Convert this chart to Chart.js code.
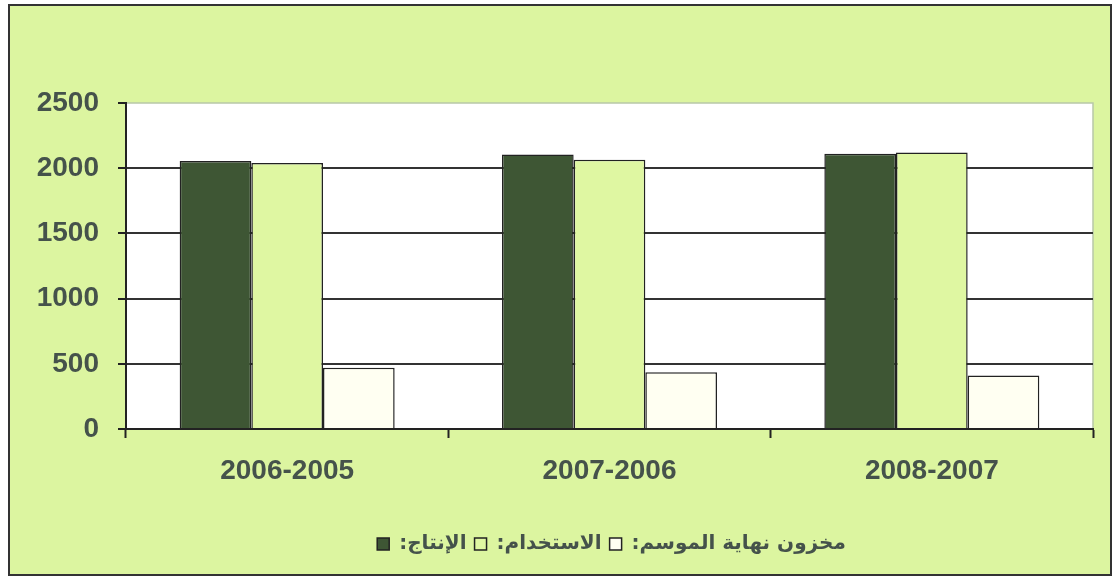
<!DOCTYPE html>
<html>
<head>
<meta charset="utf-8">
<script src="https://cdn.jsdelivr.net/npm/chart.js@4"></script>
<style>
  html, body { margin: 0; padding: 0; background: #ffffff; }
  #wrap { width: 1114px; height: 578px; }
</style>
</head>
<body>
<div id="wrap"><canvas id="grain_chart" width="1114" height="578"></canvas></div>
<script>
// values (thousand tonnes, by season)
const categories = ['2006-2005', '2007-2006', '2008-2007'];
const production = [2055, 2105, 2110];
const usage = [2040, 2065, 2120];
const endStock = [470, 435, 410];
const seriesNames = ['الإنتاج:', 'الاستخدام:', 'مخزون نهاية الموسم:'];
const yMin = 0;
const yMax = 2500;
const yStep = 500;

const textColor = '#45524b';
const tickFont = { family: 'Liberation Sans', size: 28, weight: 'bold' };

// green frame round the whole chart + white plot area
const frameBg = {
    id: 'frameBg',
    afterLayout(chart) {
        // legend in the picture sits a bit right of centre
        chart.legend.left += 65;
        chart.legend.right += 65;
    },
    beforeDraw(chart) {
        const { ctx, chartArea: a } = chart;
        ctx.save();
        ctx.fillStyle = '#ffffff';
        ctx.fillRect(0, 0, chart.width, chart.height);
        ctx.fillStyle = '#dcf5a0';
        ctx.fillRect(9, 5, 1102, 570);
        ctx.strokeStyle = '#333333';
        ctx.lineWidth = 2;
        ctx.strokeRect(9, 5, 1102, 570);
        ctx.fillStyle = '#ffffff';
        ctx.fillRect(a.left, a.top, a.right - a.left, a.bottom - a.top);
        ctx.strokeStyle = '#b8c8a8';
        ctx.lineWidth = 1.5;
        ctx.beginPath();
        ctx.moveTo(a.left, a.top);
        ctx.lineTo(a.right, a.top);
        ctx.lineTo(a.right, a.bottom);
        ctx.stroke();
        ctx.restore();
    }
};

new Chart(document.getElementById('grain_chart'), {
    type: 'bar',
    data: {
        labels: categories,
        datasets: [
            { label: seriesNames[0], data: production, backgroundColor: '#3e5634' },
            { label: seriesNames[1], data: usage, backgroundColor: '#dff7a2' },
            { label: seriesNames[2], data: endStock, backgroundColor: '#fffff2' }
        ]
    },
    options: {
        responsive: false,
        devicePixelRatio: 1,
        animation: false,
        datasets: {
            bar: {
                barPercentage: 1,
                categoryPercentage: 0.667,
                borderColor: '#222222',
                borderWidth: 1.5
            }
        },
        layout: { padding: { top: 103, left: 0, right: 21, bottom: 14 } },
        plugins: {
            tooltip: { enabled: false },
            legend: {
                position: 'bottom',
                textDirection: 'rtl',
                labels: {
                    boxWidth: 12,
                    boxHeight: 12,
                    padding: 8,
                    color: textColor,
                    font: { family: 'DejaVu Sans', size: 20, weight: 'bold' }
                }
            }
        },
        scales: {
            x: {
                afterFit(scale) { scale.height = 97; },
                grid: {
                    drawOnChartArea: false,
                    drawTicks: true,
                    tickLength: 9,
                    tickColor: '#222222',
                    tickWidth: 2
                },
                border: { display: true, color: '#222222', width: 2 },
                ticks: { color: textColor, font: tickFont, padding: 16 }
            },
            y: {
                min: yMin,
                max: yMax,
                afterFit(scale) { scale.width = 126; },
                grid: {
                    color: (c) => c.tick && c.tick.value === yMax ? 'rgba(0,0,0,0)' : '#333333',
                    lineWidth: 2,
                    tickLength: 8,
                    tickColor: '#222222',
                    tickWidth: 2
                },
                border: { display: true, color: '#222222', width: 2 },
                ticks: {
                    stepSize: yStep,
                    color: textColor,
                    font: tickFont,
                    padding: 19,
                    callback: (v) => String(v)
                }
            }
        }
    },
    plugins: [frameBg]
});
</script>
</body>
</html>
